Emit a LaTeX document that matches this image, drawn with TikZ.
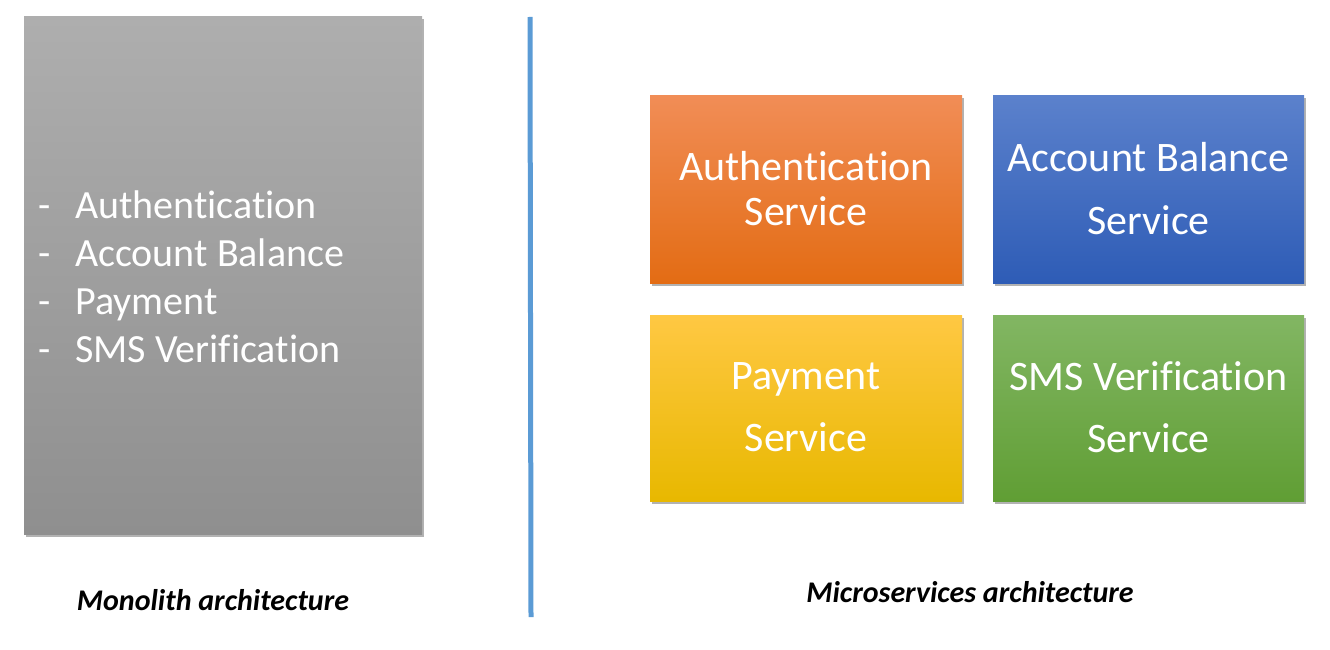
\documentclass[tikz,border=0pt]{standalone}
\usepackage{fontspec}
\setmainfont{Carlito}[Ligatures=NoCommon]
\usetikzlibrary{shadows}
\tikzset{
  box/.style={rectangle, inner sep=0pt, draw=none,
    drop shadow={shadow xshift=1.5pt, shadow yshift=-2.5pt, opacity=0.3, fill=black}},
  boxtext/.style={text=white, align=center, inner sep=0pt},
  caption/.style={font=\fontsize{30}{34}\selectfont\bfseries\itshape, text=black, inner sep=0pt}
}
\definecolor{divider}{HTML}{5B9BD5}
\begin{document}
\begin{tikzpicture}[x=1pt,y=-1pt]
\useasboundingbox (0,0) rectangle (1330,650);
% monolith
\node[box, minimum width=398pt, minimum height=517pt, top color={rgb,255:red,174;green,174;blue,174}, bottom color={rgb,255:red,143;green,143;blue,143}] (mono) at (223,275.5) {};
\node[text=white, align=left, inner sep=0pt, anchor=west, font=\fontsize{40}{48}\selectfont] (monotext) at (38,277)
  {\makebox[37pt][l]{-}Authentication\\ \makebox[37pt][l]{-}Account Balance\\ \makebox[37pt][l]{-}Payment\\ \makebox[37pt][l]{-}SMS Verification};
\node[caption] (monocap) at (213,600) {Monolith architecture};
% divider
\coordinate (dtop) at (530,17);
\coordinate (dbot) at (531,617);
\draw[divider, line width=5pt] (dtop) -- (dbot);
% microservices
\node[box, minimum width=312pt, minimum height=187pt, top color={rgb,255:red,241;green,141;blue,86}, bottom color={rgb,255:red,227;green,108;blue,20}] (auth) at (806,189.5) {};
\node[boxtext, font=\fontsize{42}{45}\selectfont] (authtext) at (806,189) {Authentication\\Service};
\node[box, minimum width=311pt, minimum height=187pt, top color={rgb,255:red,91;green,129;blue,204}, bottom color={rgb,255:red,46;green,92;blue,182}] (acct) at (1148.5,189.5) {};
\node[boxtext, font=\fontsize{42}{63}\selectfont] (accttext) at (1148.5,189) {Account Balance\\Service};
\node[box, minimum width=312pt, minimum height=186pt, top color={rgb,255:red,255;green,200;blue,67}, middle color={rgb,255:red,255;green,192;blue,0}, bottom color={rgb,255:red,232;green,184;blue,0}] (pay) at (806,408) {};
\node[boxtext, font=\fontsize{42}{62}\selectfont] (paytext) at (806,407.5) {Payment\\Service};
\node[box, minimum width=311pt, minimum height=186pt, top color={rgb,255:red,130;green,182;blue,99}, bottom color={rgb,255:red,96;green,158;blue,52}] (sms) at (1148.5,408) {};
\node[boxtext, font=\fontsize{42}{62}\selectfont] (smstext) at (1148.5,407.5) {SMS Verification\\Service};
\node[caption] (microcap) at (970,592) {Microservices architecture};
\end{tikzpicture}
\end{document}
